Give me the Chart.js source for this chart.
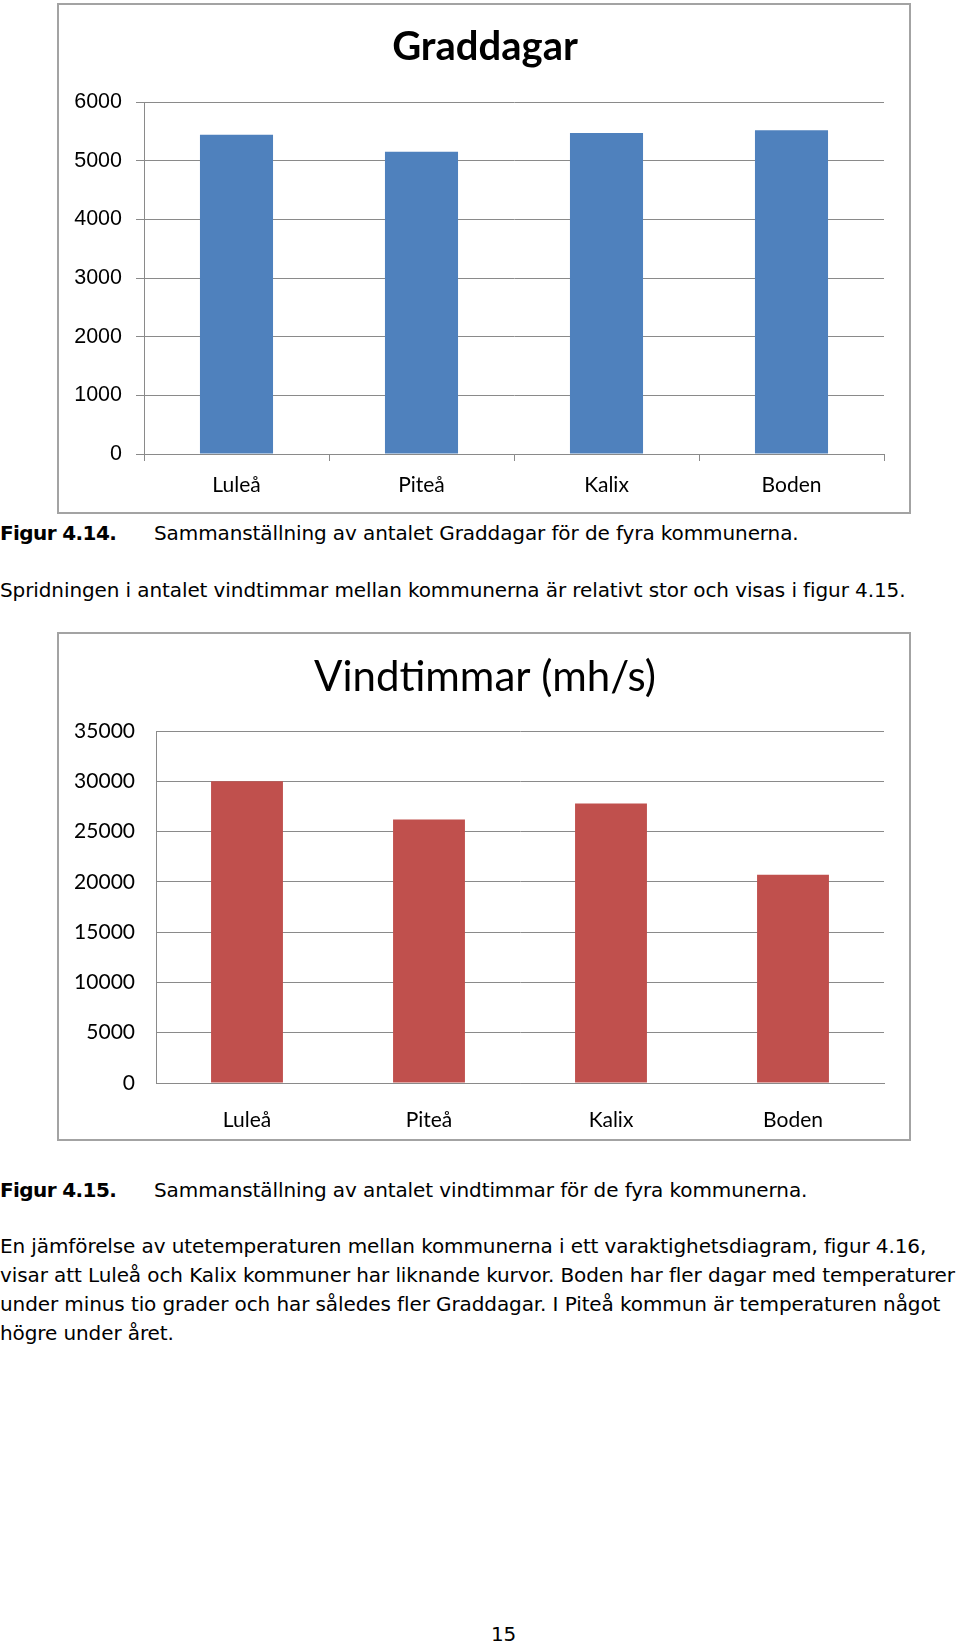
<!DOCTYPE html>
<html lang="sv">
<head>
<meta charset="utf-8">
<script src="https://cdn.jsdelivr.net/npm/chart.js@4"></script>
<style>
  body { margin: 0; background: #fff; width: 960px; height: 1647px; position: relative; overflow: hidden; }
  .box { position: absolute; left: 57px; width: 854px; border: 2px solid #a3a3a3; box-sizing: border-box; background: #fff; }
  .box canvas { position: absolute; left: 0; top: 0; }
  .txt { position: absolute; left: 0; font-family: "DejaVu Sans", "Liberation Sans", sans-serif; font-size: 20px; line-height: 28px; color: #000; white-space: nowrap; letter-spacing: -0.1px; }
  .txt b { display: inline-block; width: 154px; letter-spacing: -0.6px; }
</style>
</head>
<body>
<div class="box" style="top:3px;height:511px"><canvas id="grad" width="850" height="507"></canvas></div>
<div class="txt" style="top:519px"><b>Figur 4.14.</b>Sammanställning av antalet Graddagar för de fyra kommunerna.</div>
<div class="txt" style="top:576px">Spridningen i antalet vindtimmar mellan kommunerna är relativt stor och visas i figur 4.15.</div>
<div class="box" style="top:632px;height:509px"><canvas id="vind" width="850" height="505"></canvas></div>
<div class="txt" style="top:1176px"><b>Figur 4.15.</b>Sammanställning av antalet vindtimmar för de fyra kommunerna.</div>
<div class="txt" style="top:1232px">En jämförelse av utetemperaturen mellan kommunerna i ett varaktighetsdiagram, figur 4.16,</div>
<div class="txt" style="top:1261px">visar att Luleå och Kalix kommuner har liknande kurvor. Boden har fler dagar med temperaturer</div>
<div class="txt" style="top:1290px">under minus tio grader och har således fler Graddagar. I Piteå kommun är temperaturen något</div>
<div class="txt" style="top:1319px">högre under året.</div>
<div class="txt" style="top:1620px;left:491px">15</div>
<script>
const kommuner = ['Luleå', 'Piteå', 'Kalix', 'Boden'];
const graddagar = [5440, 5150, 5470, 5520];
const vindtimmar = [30000, 26200, 27800, 20700];
const gradTicks = { max: 6000, step: 1000 };
const vindTicks = { max: 35000, step: 5000 };

const calibri = 'Lato, "Open Sans", sans-serif';
const gridGrey = '#8a8a8a';

// chart title centred on the whole box, like the Excel original
const boxTitle = {
  id: 'boxTitle',
  afterDraw(chart, args, o) {
    const { ctx } = chart;
    ctx.save();
    ctx.font = o.font;
    ctx.fillStyle = '#000';
    ctx.textAlign = 'center';
    ctx.textBaseline = 'middle';
    ctx.fillText(o.text, o.x, o.y);
    ctx.restore();
  },
};

const renderBars = (canvas, opts) => new Chart(canvas, {
  type: 'bar',
  data: {
    labels: kommuner,
    datasets: [{
      data: opts.data,
      backgroundColor: opts.color,
      barPercentage: 1,
      categoryPercentage: 0.395,
    }],
  },
  plugins: [boxTitle],
  options: {
    responsive: false,
    animation: false,
    layout: { padding: { left: 0, right: 25, top: 97, bottom: 0 } },
    plugins: {
      legend: { display: false },
      tooltip: { enabled: false },
      title: { display: false },
      boxTitle: { text: opts.title, font: opts.titleFont, x: 426, y: opts.titleY },
    },
    scales: {
      x: {
        afterFit: (s) => { s.height = opts.xHeight; },
        grid: {
          display: opts.xTicks,
          drawOnChartArea: false,
          tickLength: 7,
          color: gridGrey,
        },
        border: { display: true, color: gridGrey },
        ticks: { color: '#000', padding: opts.xPad, font: { family: calibri, size: 21 } },
      },
      y: {
        min: 0,
        max: opts.ticks.max,
        afterFit: (s) => { s.width = opts.yWidth; },
        grid: { color: gridGrey, drawTicks: opts.yTicks, tickLength: 8 },
        border: { display: true, color: gridGrey },
        ticks: {
          stepSize: opts.ticks.step,
          color: '#000',
          padding: opts.yPad,
          font: { family: opts.yFont, size: opts.yFontSize },
          callback: (v) => String(v),
        },
      },
    },
  },
});

renderBars(document.getElementById('grad'), {
  data: graddagar,
  color: '#4f81bd',
  title: 'Graddagar',
  titleFont: 'bold 40px Lato, "Open Sans", sans-serif',
  titleY: 42,
  ticks: gradTicks,
  xHeight: 58,
  xTicks: true,
  xPad: 12,
  yWidth: 85,
  yTicks: true,
  yPad: 14,
  yFont: '"Liberation Sans", Arial, sans-serif',
  yFontSize: 21.5,
});

renderBars(document.getElementById('vind'), {
  data: vindtimmar,
  color: '#c0504d',
  title: 'Vindtimmar (mh/s)',
  titleFont: '42px Lato, "Open Sans", sans-serif',
  titleY: 43,
  ticks: vindTicks,
  xHeight: 56,
  xTicks: false,
  xPad: 18,
  yWidth: 97,
  yTicks: false,
  yPad: 21,
  yFont: calibri,
  yFontSize: 21,
});
</script>
</body>
</html>
